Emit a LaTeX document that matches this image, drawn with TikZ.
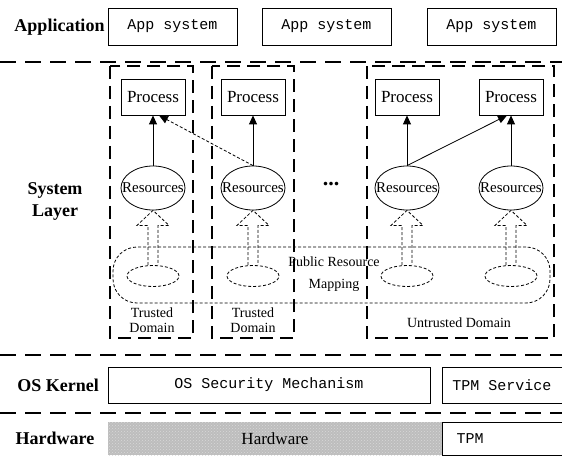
\documentclass[tikz,border=0pt]{standalone}
\usepackage{fontspec}
\setmainfont{Liberation Serif}
\newfontfamily\boxmono{Liberation Mono}
\usetikzlibrary{arrows.meta,shapes.geometric,calc,patterns}

\begin{document}
\begin{tikzpicture}[x=1pt,y=-1pt,
  layerline/.style={line width=2.4pt, dash pattern=on 16pt off 9pt},
  domainbox/.style={line width=2.2pt, dash pattern=on 13pt off 7pt},
  thindash/.style={line width=0.8pt, dash pattern=on 3pt off 2pt},
  layerlabel/.style={font=\fontsize{18}{22}\selectfont\bfseries, align=center, inner sep=0pt},
  monobox/.style={draw, line width=0.8pt, inner sep=0pt, font=\boxmono\fontsize{15}{17}\selectfont},
  procbox/.style={draw, line width=0.8pt, minimum width=64pt, minimum height=36pt, inner sep=0pt, font=\fontsize{17}{19}\selectfont},
  resnode/.style={draw, ellipse, line width=0.8pt, minimum width=64pt, minimum height=44pt, inner sep=0pt, font=\fontsize{15}{17}\selectfont},
  srcnode/.style={draw, ellipse, thindash, minimum width=52pt, minimum height=21pt, inner sep=0pt},
  domtext/.style={font=\fontsize{14}{15.5}\selectfont, align=center, inner sep=0pt},
  uparrow/.style={-{Triangle[length=9pt,width=8pt]}, line width=0.8pt},
]
\useasboundingbox (0,0) rectangle (562,457);
\clip (0,0) rectangle (562,457);

% layer separators
\draw[layerline] (0,62) -- (562,62);
\draw[layerline] (0,355) -- (562,355);
\draw[layerline] (0,413) -- (562,413);

% layer names
\node[layerlabel] (lapp) at (59.5,27) {Application};
\node[layerlabel] (lsys) at (55,201) {System\\Layer};
\node[layerlabel] (los)  at (58,385) {OS Kernel};
\node[layerlabel] (lhw)  at (55,438.5) {Hardware};

% application layer
\node[monobox, minimum width=129pt, minimum height=37pt] (app1) at (172.5,26.5) {App system};
\node[monobox, minimum width=129pt, minimum height=37pt] (app2) at (326.5,26.5) {App system};
\node[monobox, minimum width=129pt, minimum height=37pt] (app3) at (491.5,26.5) {App system};

% domains
\draw[domainbox] (110,66) rectangle (193,338);
\draw[domainbox] (212,66) rectangle (294,338);
\draw[domainbox] (367,66) rectangle (554,338);

% shared resource mapping region
\node[draw, thindash, rounded corners=24pt, minimum width=437pt, minimum height=56pt, inner sep=0pt] (pub) at (331.5,275) {};
\node[font=\fontsize{14}{16}\selectfont, inner sep=0pt] (pubt1) at (334,262) {Public Resource};
\node[font=\fontsize{14}{16}\selectfont, inner sep=0pt] (pubt2) at (334,285) {Mapping};

% processes
\node[procbox] (p1) at (153,97) {Process};
\node[procbox] (p2) at (253,97) {Process};
\node[procbox] (p3) at (407,97) {Process};
\node[procbox] (p4) at (511,97) {Process};

% resources
\node[resnode] (r1) at (153,188) {\makebox[0pt]{Resources}};
\node[resnode] (r2) at (253,188) {\makebox[0pt]{Resources}};
\node[resnode] (r3) at (407,188) {\makebox[0pt]{Resources}};
\node[resnode] (r4) at (511,188) {\makebox[0pt]{Resources}};

\node[font=\fontsize{22}{24}\selectfont\bfseries, inner sep=0pt] (dots) at (331,184) {...};

% resource sources
\node[srcnode] (s1) at (153,276) {};
\node[srcnode] (s2) at (253,276) {};
\node[srcnode] (s3) at (407,276) {};
\node[srcnode] (s4) at (511,276) {};

% hollow mapping arrows
\foreach \i in {1,2,3,4}{
  \draw[thindash] ($(s\i.north)+(-5,0)$) -- ($(r\i.south)+(-5,15)$) -- ($(r\i.south)+(-16,15)$)
    -- (r\i.south) -- ($(r\i.south)+(16,15)$) -- ($(r\i.south)+(5,15)$) -- ($(s\i.north)+(5,0)$);
}

% access arrows
\draw[uparrow] (r1.north) -- (p1.south);
\draw[uparrow] (r2.north) -- (p2.south);
\draw[uparrow] (r3.north) -- (p3.south);
\draw[uparrow] (r4.north) -- (p4.south);
\draw[uparrow, thindash] (r2.north) -- ($(p1.south)+(6,0)$);
\draw[uparrow] (r3.north) -- ($(p4.south)+(-4,0)$);

% domain captions
\node[domtext] (td1) at (152,320) {Trusted\\Domain};
\node[domtext] (td2) at (253,320) {Trusted\\Domain};
\node[domtext] (ud) at (459,323) {Untrusted Domain};

% kernel layer
\node[monobox, minimum width=322pt, minimum height=36pt] (osm) at (269,385) {OS Security Mechanism};
\node[draw, line width=0.8pt, minimum width=140pt, minimum height=36pt, inner sep=0pt] (tpms) at (512,385) {};
\node[font=\boxmono\fontsize{15}{17}\selectfont, inner sep=0pt] (tpmst) at (502,385) {TPM Service};

% hardware layer
\node[minimum width=334pt, minimum height=33pt, inner sep=0pt, fill=black!26,
  postaction={pattern=crosshatch dots, pattern color=white!85!black},
  font=\fontsize{17}{19}\selectfont] (hw) at (275,438.5) {Hardware};
\node[draw, line width=0.8pt, minimum width=140pt, minimum height=33pt, inner sep=0pt] (tpm) at (512,438.5) {};
\node[font=\boxmono\fontsize{15}{17}\selectfont, inner sep=0pt] (tpmt) at (470,438.5) {TPM};
\end{tikzpicture}
\end{document}
